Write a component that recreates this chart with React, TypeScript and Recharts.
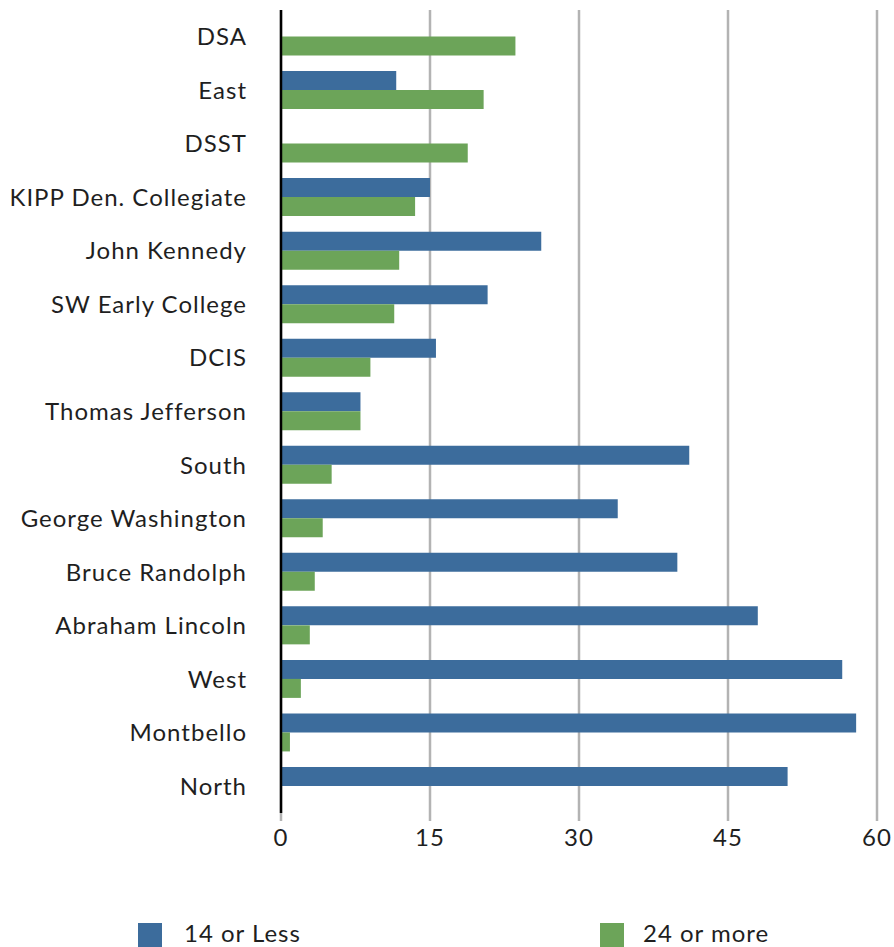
import React from "react";
import { BarChart, Bar, XAxis, YAxis, CartesianGrid, Legend } from "recharts";

const schools = [
  "DSA",
  "East",
  "DSST",
  "KIPP Den. Collegiate",
  "John Kennedy",
  "SW Early College",
  "DCIS",
  "Thomas Jefferson",
  "South",
  "George Washington",
  "Bruce Randolph",
  "Abraham Lincoln",
  "West",
  "Montbello",
  "North",
];
const lessThan14 = [null, 11.6, null, 15.0, 26.2, 20.8, 15.6, 8.0, 41.1, 33.9, 39.9, 48.0, 56.5, 57.9, 51.0];
const moreThan24 = [23.6, 20.4, 18.8, 13.5, 11.9, 11.4, 9.0, 8.0, 5.1, 4.2, 3.4, 2.9, 2.0, 0.9, null];
const xTicks = [0, 15, 30, 45, 60];
const seriesNames = ["14 or Less", "24 or more"];
const colors = ["#3C6C9C", "#6CA459"];

const data = schools.map((s, i) => ({ school: s, low: lessThan14[i], high: moreThan24[i] }));

const FONT = "Lato, 'Open Sans', sans-serif";

const LegendContent = () => (
  <div style={{ position: "relative", width: 894, height: 30, fontFamily: FONT, fontSize: 24, letterSpacing: 1, color: "#1F1F1F" }}>
    <div style={{ position: "absolute", left: 138, top: 6, width: 24, height: 24, background: colors[0] }} />
    <div style={{ position: "absolute", left: 184, top: 1, lineHeight: "30px" }}>{seriesNames[0]}</div>
    <div style={{ position: "absolute", left: 600, top: 6, width: 24, height: 24, background: colors[1] }} />
    <div style={{ position: "absolute", left: 643, top: 1, lineHeight: "30px" }}>{seriesNames[1]}</div>
  </div>
);

export default function App() {
  return (
    <div style={{ position: "absolute", left: 0, top: 0, background: "#fff" }}>
      <BarChart
        width={894}
        height={947}
        data={data}
        layout="vertical"
        margin={{ top: 10, right: 17, bottom: 0, left: 0 }}
        barCategoryGap="14%"
        barGap={0}
      >
        <CartesianGrid horizontal={false} vertical={true} stroke="#B3B3B3" strokeWidth={2.5} />
        <XAxis
          type="number"
          domain={[0, 60]}
          ticks={xTicks}
          interval={0}
          axisLine={false}
          tickLine={{ stroke: "#B3B3B3", strokeWidth: 2.5 }}
          tickSize={8}
          tickMargin={8}
          height={134}
          tick={{ fill: "#1F1F1F", fontSize: 24, fontFamily: FONT, letterSpacing: 1 }}
        />
        <YAxis
          type="category"
          dataKey="school"
          width={281}
          axisLine={{ stroke: "#000", strokeWidth: 2.5 }}
          tickLine={false}
          tickSize={0}
          tickMargin={34}
          interval={0}
          tick={{ fill: "#1F1F1F", fontSize: 24, fontFamily: FONT, letterSpacing: 1 }}
        />
        <Bar dataKey="low" name={seriesNames[0]} fill={colors[0]} isAnimationActive={false} />
        <Bar dataKey="high" name={seriesNames[1]} fill={colors[1]} isAnimationActive={false} />
        <Legend
          layout="horizontal"
          verticalAlign="middle"
          align="center"
          content={<LegendContent />}
          wrapperStyle={{ position: "absolute", left: 0, top: 917, width: 894 }}
        />
      </BarChart>
    </div>
  );
}
